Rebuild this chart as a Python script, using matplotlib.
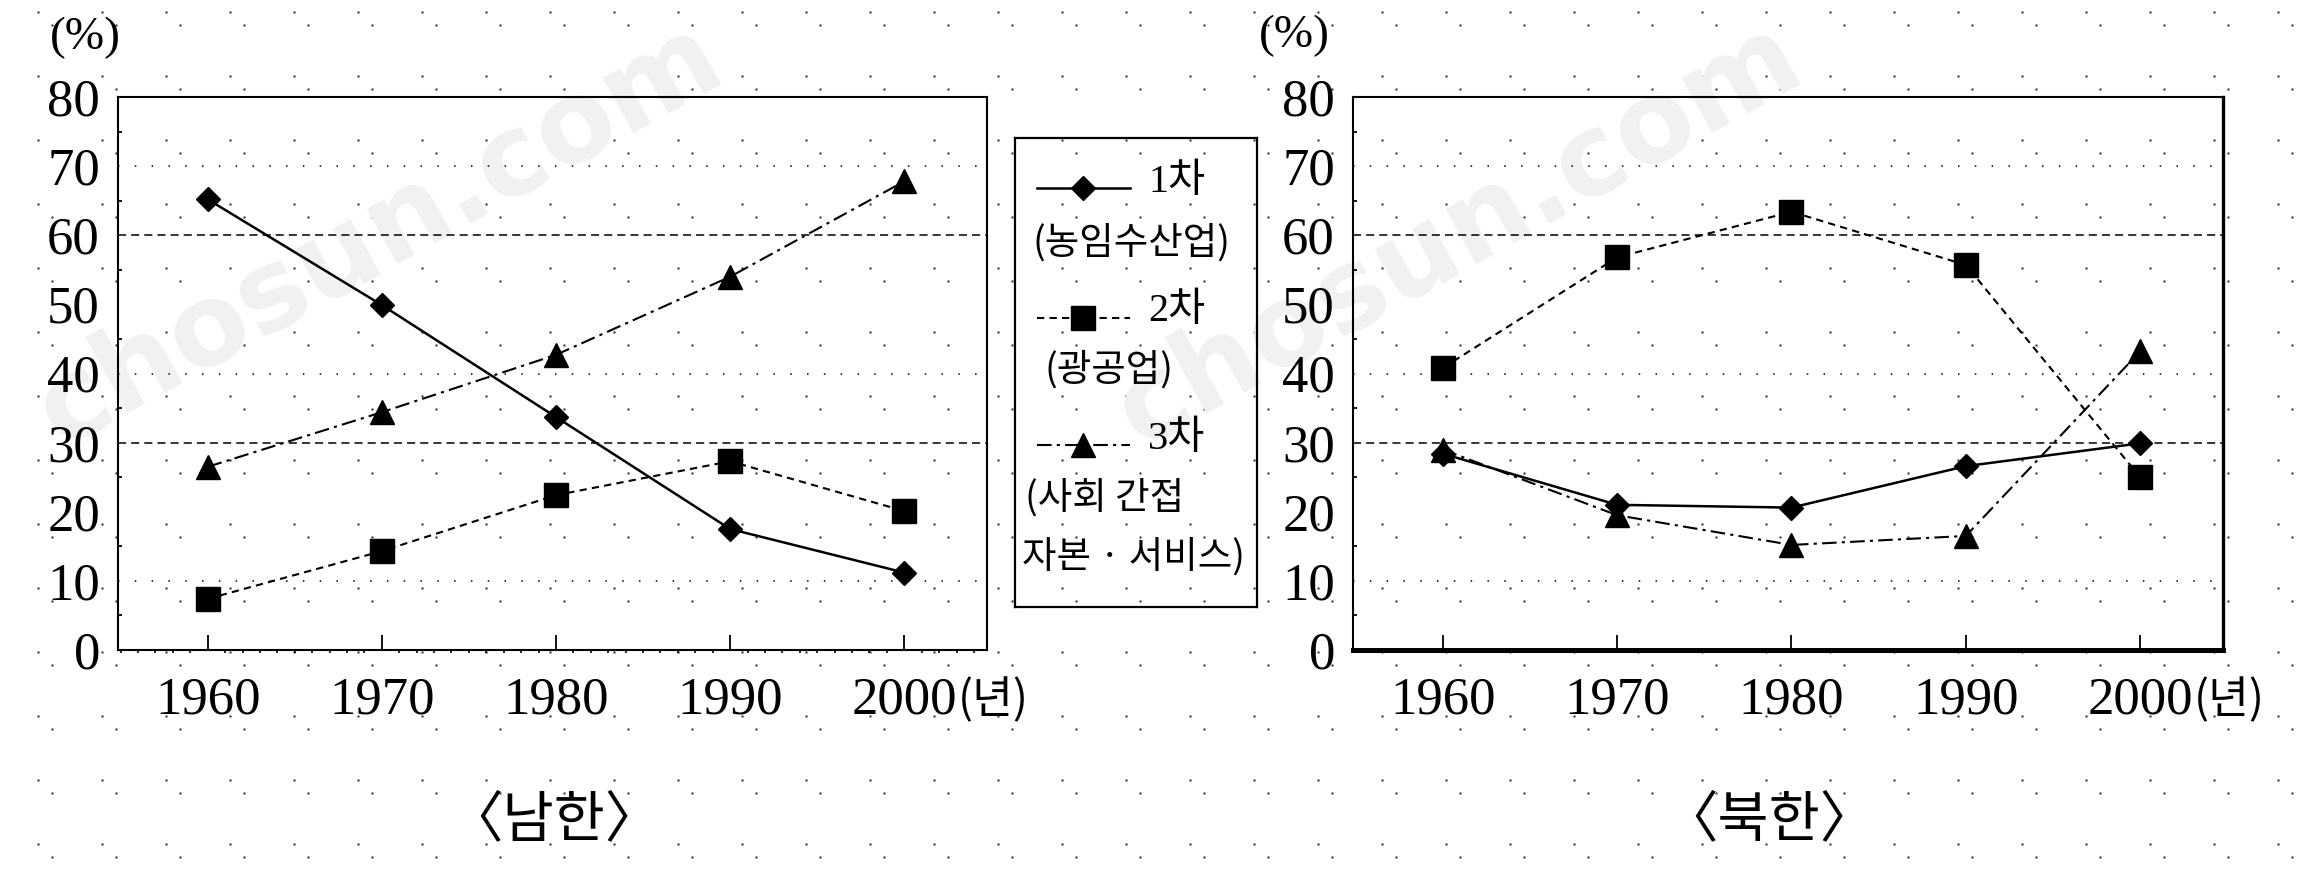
import matplotlib
matplotlib.use("Agg")
import matplotlib.pyplot as plt
from matplotlib.ticker import MultipleLocator
from matplotlib.lines import Line2D
import numpy as np

plt.rcParams['font.family'] = ['Liberation Serif', 'Noto Sans CJK KR']
KR = ['Noto Sans CJK KR', 'DejaVu Sans']

years = [1960, 1970, 1980, 1990, 2000]
year_labels = ['1960', '1970', '1980', '1990', '2000']

# 남한, 산업별 비중 (%)
south_primary = [65.2, 49.9, 33.7, 17.5, 11.2]
south_secondary = [7.4, 14.3, 22.4, 27.3, 20.1]
south_tertiary = [26.5, 34.4, 42.7, 54.0, 67.8]

# 북한, 산업별 비중 (%)
north_primary = [28.4, 21.0, 20.6, 26.6, 29.9]
north_secondary = [40.8, 56.8, 63.4, 55.7, 25.0]
north_tertiary = [29.0, 19.5, 15.2, 16.5, 43.2]

STYLE1 = dict(color='black', lw=1.8, ls='-', marker='D', ms=12)
STYLE2 = dict(color='black', lw=1.5, ls=(0, (3.5, 2.5)), marker='s', ms=17)
STYLE3 = dict(color='black', lw=1.5, ls=(0, (7, 2.5, 1.5, 2.5)), marker='^', ms=17)

W, H = 2315, 883
fig = plt.figure(figsize=(W / 100, H / 100), dpi=100)


def px_box(x0, y0, x1, y1):
    # pixel box (top-left origin) -> figure fraction rect
    return [x0 / W, 1 - y1 / H, (x1 - x0) / W, (y1 - y0) / H]


# page texture + watermark, behind everything
bg = fig.add_axes([0, 0, 1, 1], zorder=-2)
bg.set_xlim(0, W)
bg.set_ylim(H, 0)
bg.axis('off')
gx, gy = np.meshgrid(np.arange(38, W, 64), np.arange(12, H, 64))
bg.scatter(gx.ravel(), gy.ravel(), s=3, c='#444444', lw=0)
bg.scatter(gx.ravel() + 14, gy.ravel() + 13, s=3, c='#444444', lw=0)
for x0 in (60, 1139):
    bg.text(x0, 448, 'chosun.com', rotation=29, rotation_mode='anchor',
            fontsize=82, fontweight='bold', color='#f1f1f1',
            ha='left', va='baseline', family='DejaVu Sans')


def draw_panel(rect, prim, sec, tert, thick_bottom):
    ax = fig.add_axes(rect)
    ax.patch.set_alpha(0)
    ax.set_xlim(1954.85, 2004.75)
    ax.set_ylim(0, 80)
    for y in (30, 60):
        ax.axhline(y, color='black', lw=1.1, ls=(0, (5.3, 3.3)), zorder=1)
    for y in (10, 40, 70):
        ax.axhline(y, color='black', lw=1.1, ls=(0, (1, 10)), zorder=1)
    ax.plot(years, tert, zorder=3, **STYLE3)
    ax.plot(years, sec, zorder=3, **STYLE2)
    ax.plot(years, prim, zorder=4, **STYLE1)

    ax.set_xticks(years)
    ax.set_xticklabels(year_labels)
    ax.set_yticks(range(0, 81, 10))
    ax.yaxis.set_minor_locator(MultipleLocator(5))
    ax.tick_params(axis='x', which='major', direction='in', length=11,
                   width=1.3, pad=19, labelsize=38)
    ax.tick_params(axis='y', which='major', length=0, pad=13, labelsize=38)
    ax.tick_params(axis='y', which='minor', direction='in', length=3, width=1.3)
    for s in ax.spines.values():
        s.set_linewidth(1.5)
    if thick_bottom:
        ax.spines['bottom'].set_linewidth(3.6)
        ax.spines['right'].set_linewidth(2.4)
    else:
        ax.xaxis.set_minor_locator(MultipleLocator(1))
        ax.tick_params(axis='x', which='minor', direction='out', length=2.5, width=1.2)
    ax.annotate('(년)', xy=(2000, 0), xycoords=('data', 'axes fraction'),
                xytext=(54, -50), textcoords='offset pixels',
                ha='left', va='center', fontsize=32, family=KR)
    return ax


draw_panel(px_box(118, 97, 987, 650), south_primary, south_secondary, south_tertiary, False)
draw_panel(px_box(1353, 97, 2223, 650), north_primary, north_secondary, north_tertiary, True)

bg.text(85, 38, '(%)', ha='center', va='center', fontsize=34)
bg.text(1294, 36, '(%)', ha='center', va='center', fontsize=34)
bg.text(554, 820, '〈남한〉', ha='center', va='center', fontsize=40, family=KR)
bg.text(1769, 820, '〈북한〉', ha='center', va='center', fontsize=40, family=KR)

# legend box
lg = fig.add_axes(px_box(1015, 138, 1257, 607))
lg.set_xlim(0, 1)
lg.set_ylim(0, 1)
lg.set_xticks([])
lg.set_yticks([])
lg.patch.set_alpha(0)
for s in lg.spines.values():
    s.set_linewidth(1.6)

legend_rows = [
    (STYLE1, 0.893, '1차', 0.905),
    (STYLE2, 0.616, '2차', 0.630),
    (STYLE3, 0.345, '3차', 0.358),
]
for style, ly, lab, ty in legend_rows:
    lg.add_line(Line2D([0.09, 0.28, 0.475], [ly, ly, ly], markevery=[1],
                       transform=lg.transAxes, **style))
    lg.text(0.55, ty, lab, ha='left', va='center', fontsize=29,
            family=['Liberation Serif', 'Noto Sans CJK KR'])

lg.text(0.48, 0.776, '(농임수산업)', ha='center', va='center', fontsize=27, family=KR)
lg.text(0.12, 0.505, '(광공업)', ha='left', va='center', fontsize=27, family=KR)
lg.text(0.04, 0.232, '(사회 간접', ha='left', va='center', fontsize=27, family=KR)
lg.text(0.03, 0.104, '자본 · 서비스)', ha='left', va='center', fontsize=27, family=KR)

fig.savefig('out.png', dpi=100)
